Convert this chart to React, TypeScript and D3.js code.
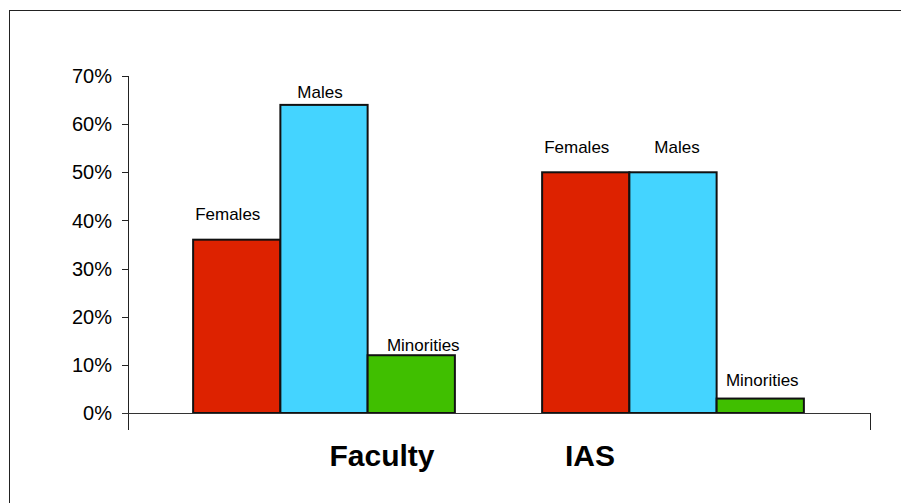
import React from "react";
import * as d3 from "d3";

const categories = ["Faculty", "IAS"];
const seriesNames = ["Females", "Males", "Minorities"];
const facultyValues = [0.36, 0.64, 0.12];
const iasValues = [0.5, 0.5, 0.03];
const tickValues = [0, 0.1, 0.2, 0.3, 0.4, 0.5, 0.6, 0.7];
const colors = ["#DD2200", "#44D4FF", "#40BF00"];

// label nudges (dx, gap above bar) per category/series
const labelDx = [
  [-9, -4, 12],
  [-9, 4, 2],
];
const labelGap = [
  [20, 7, 4],
  [19, 19, 13],
];
const catLabelDx = [58, -83];

const W = 901;
const H = 503;

export default function App() {
  const y = d3.scaleLinear().domain([0, 0.7]).range([413, 76]);
  const x0 = d3
    .scaleBand<string>()
    .domain(categories)
    .range([149.5, 847.5])
    .paddingInner(0.25)
    .paddingOuter(0.125);
  const x1 = d3
    .scaleBand<string>()
    .domain(seriesNames)
    .range([0, x0.bandwidth()]);
  const data = [facultyValues, iasValues];
  const axisLeft = 128;
  const axisRight = 870;
  const fmt = d3.format(".0%");

  return (
    <svg
      width={W}
      height={H}
      style={{ position: "absolute", left: 0, top: 0, background: "#fff" }}
      fontFamily="Liberation Sans, Arial, sans-serif"
    >
      <rect x={9.5} y={10.5} width={W} height={H} fill="#fff" stroke="#222" strokeWidth={1} />
      {/* y axis */}
      <line x1={axisLeft + 0.5} x2={axisLeft + 0.5} y1={y(0.7)} y2={430} stroke="#222" />
      {tickValues.map((t) => (
        <g key={t}>
          <line x1={122} x2={axisLeft} y1={Math.round(y(t)) + 0.5} y2={Math.round(y(t)) + 0.5} stroke="#222" />
          <text x={112} y={y(t)} dy="0.36em" textAnchor="end" fontSize={20} fill="#000">
            {fmt(t)}
          </text>
        </g>
      ))}
      {/* bars */}
      {categories.map((c, ci) =>
        seriesNames.map((s, si) => {
          const v = data[ci][si];
          const bx = (x0(c) as number) + (x1(s) as number);
          const by = y(v);
          return (
            <g key={c + s}>
              <rect
                x={bx}
                y={by}
                width={x1.bandwidth()}
                height={y(0) - by}
                fill={colors[si]}
                stroke="#111"
                strokeWidth={2}
              />
              <text
                x={bx + x1.bandwidth() / 2 + labelDx[ci][si]}
                y={by - labelGap[ci][si]}
                textAnchor="middle"
                fontSize={17}
                fill="#000"
              >
                {s}
              </text>
            </g>
          );
        })
      )}
      {/* x axis */}
      <line x1={122} x2={axisRight} y1={413.5} y2={413.5} stroke="#333" />
      <line x1={axisRight + 0.5} x2={axisRight + 0.5} y1={413} y2={430} stroke="#222" />
      {categories.map((c, ci) => (
        <text
          key={c}
          x={(x0(c) as number) + x0.bandwidth() / 2 + catLabelDx[ci]}
          y={466}
          textAnchor="middle"
          fontSize={30}
          fontWeight="bold"
          fill="#000"
        >
          {c}
        </text>
      ))}
    </svg>
  );
}
